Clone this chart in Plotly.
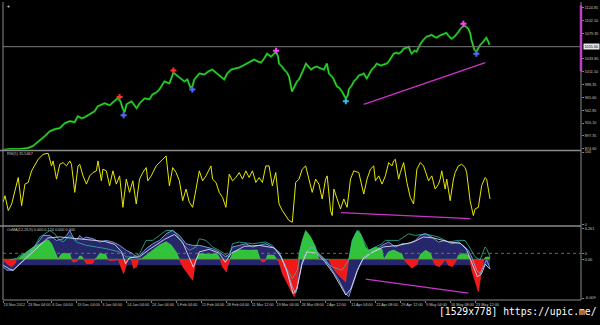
import plotly.graph_objects as go
import numpy as np

# ---------------- DATA ----------------
time_pos = [3, 27.5, 52, 77, 102, 127, 152, 177, 202, 227, 252, 277, 302, 327, 352, 377, 402, 427, 452, 477]
time_labels = ["13 Nov 2012", "23 Nov 04:00", "6 Dec 04:00", "19 Dec 04:00", "3 Jan 04:00", "14 Jan 04:00",
               "24 Jan 04:00", "5 Feb 04:00", "15 Feb 04:00", "28 Feb 04:00", "11 Mar 12:00", "19 Mar 04:00",
               "26 Mar 08:00", "2 Apr 12:00", "11 Apr 04:00", "22 Apr 08:00", "29 Apr 12:00", "9 May 04:00",
               "16 May 08:00", "23 May 12:00"]

price_x = [3,10,20,28,33,38,42,45,50,55,60,65,70,75,78,82,85,90,95,98,102,105,110,115,118,121,123,125,127,132,
           137,140,145,150,153,157,160,165,170,174,177,180,185,188,191,193,195,200,205,209,213,218,222,225,228,
           232,236,240,244,248,252,255,259,262,265,268,272,275,277,279,280,283,285,288,290,292,293,295,298,300,
           303,305,307,310,312,315,318,322,325,328,330,333,335,338,340,343,345,347,349,350,353,355,358,360,363,
           365,368,370,373,376,378,382,385,388,390,393,395,398,400,403,405,408,410,412,413,416,418,420,422,425,
           428,431,433,436,438,441,443,446,448,450,453,456,458,460,462,464,466,468,470,472,473,475,476,478,480,
           482,484,485,487,488,490,491]
price_close = [872.5,874.0,874.0,875.7,879.2,886.3,893.4,896.9,905.7,909.2,911.0,919.8,923.3,921.6,932.1,928.6,
               930.4,935.7,941.0,949.8,953.3,955.1,951.6,958.6,963.9,958.6,946.3,939.2,953.3,958.6,946.3,955.1,
               963.9,962.1,970.9,974.5,979.8,993.9,990.4,1009.7,1004.5,1000.9,993.9,997.4,983.3,985.1,997.4,1008.0,
               1006.2,1011.5,1015.0,1008.0,1002.7,997.4,1008.0,1015.0,1016.8,1018.6,1022.1,1025.6,1029.1,1032.7,
               1029.1,1027.4,1034.4,1043.3,1037.9,1043.3,1046.8,1037.9,1025.6,1020.3,1015.0,1009.7,1002.7,985.1,
               976.2,983.3,993.9,997.4,1008.0,1016.8,1025.6,1020.3,1015.0,1018.6,1020.3,1016.8,1015.0,1025.6,
               1008.0,1002.7,997.4,985.1,983.3,976.2,970.9,963.9,969.2,979.8,986.8,993.9,999.2,1004.5,1006.2,
               1008.0,999.2,1006.2,1015.0,1020.3,1025.6,1022.1,1023.9,1025.6,1029.1,1037.9,1043.3,1045.0,1043.3,
               1046.8,1052.1,1053.8,1055.6,1046.8,1043.3,1048.6,1046.8,1053.8,1060.9,1067.9,1073.2,1075.0,1076.8,
               1073.2,1071.5,1075.0,1076.8,1078.5,1080.3,1075.0,1069.7,1073.2,1076.8,1082.0,1087.3,1090.9,1092.6,
               1090.9,1087.3,1078.5,1067.9,1057.4,1050.3,1046.8,1053.8,1059.1,1062.6,1064.4,1069.7,1071.5,1064.4,
               1059.1]
current_price = [1055.6]

price_ticks = [1124.85, 1102.10, 1079.35, 1033.85, 1011.10, 988.35, 965.60, 942.85, 920.10, 897.35, 874.60]
price_tick_text = ["1124.85", "1102.10", "1079.35", "1033.85", "1011.10", "988.35", "965.60", "942.85",
                   "920.10", "897.35", "874.60"]

red_sig_x = [120, 174]
red_sig_y = [966.5, 1013.3]
blue_sig_x = [124, 193, 478]
blue_sig_y = [934.0, 979.8, 1043.3]
magenta_sig_x = [277, 465]
magenta_sig_y = [1048.5, 1096.2]
cyan_sig_x = [347]
cyan_sig_y = [958.6]

price_trend_x = [365, 487]
price_trend_y = [953.3, 1027.4]

rsi_x = [3,5,8.3,11.7,18.3,21.7,25,28.3,31.7,35,38.3,43.3,48.3,51.7,53.3,56.7,60,63.3,66.7,70,71.7,75,78.3,80,
         83.3,86.7,90,93.3,96.7,98.3,101.7,103.3,106.7,110,113.3,116.7,120,123.3,126.7,130,133.3,136.7,140,143.3,
         146.7,148.3,151.7,156.7,163.3,166.7,170,173.3,176.7,180,183.3,186.7,190,193.3,196.7,200,203.3,206.7,
         211.7,213.3,216.7,220,223.3,226.7,230,233.3,236.7,240,243.3,246.7,250,253.3,256.7,260,263.3,266.7,270,
         273.3,276.7,280,283.3,286.7,290,293.3,296.7,300,303.3,306.7,310,313.3,316.7,320,323.3,326.7,328.3,331.7,
         333.3,335,338.3,341.7,345,348.3,351.7,355,360,365,368.3,371.7,375,376.7,380,383.3,386.7,390,393.3,395,
         396.7,400,401.7,405,408.3,411.7,415,418.3,421.7,425,426.7,430,433.3,436.7,440,441.7,443.3,446.7,448.3,
         451.7,455,456.7,460,463.3,466.7,468.3,471.7,475,476.7,480,483.3,486.7,488.3,491.7]
rsi_v = [30.5,39.7,19.2,28.3,64.8,26.0,55.7,58.0,74.0,83.1,90.0,96.8,98.2,80.8,87.7,62.6,83.1,85.4,80.8,87.7,83.1,
         44.3,80.8,83.1,67.1,55.7,67.1,71.7,74.0,87.7,60.3,76.3,74.0,53.4,74.0,55.7,67.1,23.7,62.6,44.3,60.3,28.3,
         62.6,71.7,78.5,60.3,67.1,80.8,90.0,94.5,53.4,78.5,71.7,60.3,32.9,48.9,30.5,23.7,48.9,74.0,60.3,67.1,80.8,
         62.6,58.0,44.3,37.4,23.7,69.4,60.3,64.8,71.7,62.6,74.0,64.8,74.0,58.0,64.8,58.0,80.8,80.8,53.4,71.7,28.3,
         19.2,12.3,5.5,3.2,58.0,62.6,76.3,80.8,62.6,44.3,62.6,55.7,35.2,62.6,67.1,19.2,12.3,48.9,35.2,21.5,35.2,
         23.7,62.6,74.0,71.7,42.0,62.6,76.3,80.8,60.3,67.1,55.7,67.1,85.4,80.8,87.7,90.0,62.6,71.7,85.4,58.0,37.4,
         28.3,76.3,85.4,80.8,74.0,60.3,67.1,48.9,55.7,62.6,74.0,48.9,62.6,32.9,62.6,71.7,80.8,83.1,78.5,71.7,32.9,
         12.3,21.5,23.7,53.4,64.8,62.6,35.2]
rsi_trend_x = [342, 472]
rsi_trend_y = [16.4, 8.2]

osma_x = [3,6.7,11.7,15,16.7,20,26.7,33.3,40,45,48.3,51.7,55,58.3,60,62,70,71.7,73.3,77,78.3,80,82,84,86.7,93,95,
          97,100,106,108,110,116,118.5,121,124,126.7,128,130,132,134,137,139,142,146.7,153.3,160,166.7,171.7,176.7,
          180,183.3,188.3,193.3,195.5,196.7,200,210,218,221,223.3,227,229,231,234,240,250,258,261,263,266,267,
          268.5,275,277.5,280,283.3,290,295,298.3,299.5,300,303.3,306.7,311.7,316.7,320,330,333.3,338.3,343.3,
          346.7,350,353.3,358.3,361.7,366.7,370,376.7,383.3,385,390,395,403.3,405,413.3,418.3,420,422,427,432,434,
          437,441,445,447,450,454,457,458.5,460,465,470,471.5,473.3,478.3,480,483.3,485.5,487,490,491.7]
osma_v = [0.0,-0.87,-1.53,-0.87,0.0,0.47,1.47,2.47,3.13,3.67,3.93,3.13,1.47,0.0,0.6,1.13,1.13,0.0,-0.53,-0.4,0.0,
          0.67,0.6,0.0,-0.87,-0.8,0.0,0.3,1.13,1.0,0.0,-0.27,-0.2,0.0,-1.5,-2.87,-1.2,0.0,0.2,0.0,-1.87,-1.5,0.0,
          0.1,0.8,1.87,2.87,3.53,2.87,1.47,0.0,-1.47,-2.8,-4.2,-1.5,0.0,1.13,1.0,1.13,0.0,-1.5,-2.53,-1.0,0.0,1.5,
          1.87,1.8,1.87,0.0,-0.53,-0.4,0.0,0.87,0.8,0.0,-0.5,-2.87,-5.53,-7.53,-5.53,0.0,1.13,3.8,5.8,4.47,2.47,
          0.0,0.0,-1.47,-2.8,-3.87,-4.53,0.0,3.8,5.8,5.13,2.47,1.8,2.47,2.0,0.0,1.5,1.87,1.0,0.0,-1.8,-1.0,0.0,1.0,
          1.8,1.2,0.0,-1.2,-1.47,-0.5,0.0,-1.2,-1.47,-0.5,0.0,0.8,1.13,0.8,0.0,-2.13,-5.47,-6.53,-2.2,0.0,0.4,0.47,
          0.3]

macd_x = [3,6.7,13.3,20,26.7,33.3,40,43.3,50,56.7,63.3,66.7,70,73.3,76.7,80,83.3,86.7,93.3,100,106.7,113.3,120,
          126.7,133.3,136.7,140,146.7,153.3,160,166.7,170,173.3,180,186.7,193.3,200,206.7,213.3,220,226.7,230,
          233.3,240,246.7,253.3,260,266.7,273.3,280,286.7,293.3,296.7,300,303.3,306.7,313.3,320,326.7,333.3,340,
          346.7,350,353.3,356.7,360,365,370,376.7,383.3,390,396.7,403.3,410,416.7,421.7,426.7,433.3,440,446.7,
          453.3,460,466.7,470,473.3,478.3,481.7,485,488.3,491.7]
macd_v = [-1.53,-2.2,-2.2,-0.87,0.47,2.13,3.8,4.8,4.8,3.8,4.13,4.8,5.8,4.47,3.8,4.8,4.13,4.47,4.13,3.47,3.8,3.47,
          2.8,1.8,1.13,0.47,0.8,2.13,3.13,3.8,5.13,5.47,5.8,4.8,3.13,2.8,2.8,2.47,2.13,1.47,0.47,1.13,2.47,2.8,3.13,
          2.47,2.8,3.13,2.47,1.47,-1.53,-5.53,-6.87,-4.0,-0.5,1.5,2.47,1.13,-0.13,-2.2,-4.2,-6.87,-7.53,-5.53,-3.53,
          -1.53,0.47,1.13,1.8,2.8,3.47,2.47,3.13,3.13,3.8,4.8,5.13,4.47,3.47,3.8,3.13,3.47,2.47,1.8,0.47,-2.2,-2.87,
          -1.53,-0.13,-1.87]

signal_x = [3,10,13.3,25,35,48,60,75,90,105,115,122,126,130,140,150,165,175,183,190,194,200,210,220,226,232,245,
            260,275,282,288,294,298,303,308,318,326,335,342,347,352,358,364,372,385,400,415,425,435,450,462,468,
            474,479,483,487,491.7]
signal_v = [-1.2,-2.0,-2.2,0.0,2.0,4.3,4.5,4.2,4.0,3.6,3.0,1.5,-0.9,0.3,0.5,2.0,4.0,5.0,3.5,0.0,-1.6,1.5,2.0,1.2,
            -0.6,1.2,2.6,2.8,2.3,0.5,-2.5,-6.9,-6.0,-1.0,1.5,1.2,-0.5,-3.0,-5.5,-7.2,-6.0,-2.5,0.0,1.2,2.5,2.8,3.5,
            4.5,4.3,3.5,3.2,2.0,-1.0,-3.5,-3.0,-1.0,-2.0]

fast_x = [10,16.7,20,26.7,33.3,40,45,50,55,58.3,63.3,66.7,70,76.7,86.7,96.7,106.7,120,126.7,133.3,140,143.3,146.7,
          153.3,160,166.7,173.3,176.7,183.3,190,196.7,200,206.7,213.3,220,230,233.3,240,253.3,266.7,273.3,280,
          286.7,293.3,298.3,300,303.3,306.7,313.3,320,326.7,333.3,343.3,350,353.3,356.7,360,363.3,370,376.7,383.3,
          386.7,400,410,416.7,426.7,440,450,460,466.7,470,476.7,481.7,486.7,488.3,491.7]
fast_v = [-0.13,0.2,0.8,1.13,2.13,4.47,5.13,5.8,5.13,4.13,3.47,4.13,4.8,3.47,2.8,2.47,2.13,1.47,0.47,0.47,1.13,2.47,
          3.8,3.8,4.8,5.8,5.8,5.13,3.13,1.8,2.47,4.13,3.8,2.47,1.8,0.47,3.13,3.47,3.13,3.47,2.8,1.13,-1.53,-3.87,
          -2.2,-0.13,3.13,3.8,2.8,1.13,-0.47,-1.53,-2.2,-0.13,3.13,5.13,5.8,4.47,1.8,2.47,3.13,3.8,3.8,5.13,4.8,
          5.13,4.47,3.47,3.8,3.8,2.8,0.47,-0.13,2.47,2.13,0.47]

band_x = [3, 100, 200, 300, 400, 491.7]
band_v = [-1.2, -1.2, -1.2, -1.2, -1.2, -1.2]
osma_level = [1.2]
osma_trend_x = [367, 470]
osma_trend_y = [-4.0, -6.8]

for a, b in [(price_x, price_close), (rsi_x, rsi_v), (osma_x, osma_v), (macd_x, macd_v),
             (signal_x, signal_v), (fast_x, fast_v)]:
    assert len(a) == len(b), (len(a), len(b))

# ---------------- FIGURE ----------------
TXT = "#c4c4c4"
FS = 3.8
FONT = "Liberation Sans"

fig = go.Figure()

# price panel
fig.add_trace(go.Scatter(x=price_x, y=price_close, mode="lines", yaxis="y",
                         line=dict(color="#0d8f0d", width=2.2)))
fig.add_trace(go.Scatter(x=price_x, y=price_close, mode="lines", yaxis="y",
                         line=dict(color="#3fe83f", width=0.9)))
fig.add_trace(go.Scatter(x=price_trend_x, y=price_trend_y, mode="lines", yaxis="y",
                         line=dict(color="#cc33cc", width=1.3)))
for sx, sy, col in [(red_sig_x, red_sig_y, "#ff3030"), (blue_sig_x, blue_sig_y, "#4d6dff"),
                    (magenta_sig_x, magenta_sig_y, "#ff40ff"), (cyan_sig_x, cyan_sig_y, "#30c0e0")]:
    fig.add_trace(go.Scatter(x=sx, y=sy, mode="markers", yaxis="y",
                             marker=dict(symbol="cross", size=5, color=col, line=dict(width=0))))

# RSI panel
fig.add_trace(go.Scatter(x=rsi_x, y=rsi_v, mode="lines", yaxis="y2",
                         line=dict(color="#e8e800", width=1.0)))
fig.add_trace(go.Scatter(x=rsi_trend_x, y=rsi_trend_y, mode="lines", yaxis="y2",
                         line=dict(color="#cc33cc", width=1.3)))

# OsMA panel
ov = np.array(osma_v)
fig.add_trace(go.Scatter(x=macd_x, y=macd_v, mode="lines", yaxis="y3", fill="tozeroy",
                         fillcolor="#26266a", line=dict(color="rgba(0,0,0,0)", width=0)))
fig.add_trace(go.Scatter(x=band_x, y=band_v, mode="lines", yaxis="y3", fill="tozeroy",
                         fillcolor="#26266a", line=dict(color="rgba(0,0,0,0)", width=0)))
fig.add_trace(go.Scatter(x=osma_x, y=np.clip(ov, 0, None), mode="lines", yaxis="y3", fill="tozeroy",
                         fillcolor="#2fc43a", line=dict(color="#4be052", width=0.6)))
fig.add_trace(go.Scatter(x=osma_x, y=np.clip(ov, None, 0), mode="lines", yaxis="y3", fill="tozeroy",
                         fillcolor="#f01818", line=dict(color="#ff3030", width=0.6)))
fig.add_trace(go.Scatter(x=fast_x, y=fast_v, mode="lines", yaxis="y3",
                         line=dict(color="#2fb89a", width=0.8)))
fig.add_trace(go.Scatter(x=macd_x, y=macd_v, mode="lines", yaxis="y3",
                         line=dict(color="#7fa8e0", width=0.9)))
fig.add_trace(go.Scatter(x=signal_x, y=signal_v, mode="lines", yaxis="y3",
                         line=dict(color="#d8d8f4", width=0.9)))
fig.add_trace(go.Scatter(x=osma_trend_x, y=osma_trend_y, mode="lines", yaxis="y3",
                         line=dict(color="#cc33cc", width=1.3)))

PT, PB = 2, 300
H = PB - PT
def py(px):
    return (PB - px) / H

tickfont = dict(family=FONT, size=FS, color=TXT)
yax_common = dict(side="right", anchor="x", showgrid=False, zeroline=False, ticks="outside",
                  ticklen=2, tickcolor="#808080", tickfont=tickfont, showline=False, fixedrange=True)

fig.update_layout(
    width=600, height=325,
    margin=dict(l=3, r=17, t=PT, b=325 - PB),
    paper_bgcolor="#000000", plot_bgcolor="#000000",
    showlegend=False, hovermode=False,
    xaxis=dict(range=[3, 583], domain=[0, 1], anchor="y3", showgrid=False, zeroline=False,
               tickvals=time_pos, ticktext=time_labels, ticks="outside", ticklen=2,
               tickcolor="#808080", tickangle=0, ticklabelposition="outside right",
               tickfont=tickfont, showline=False),
    yaxis=dict(domain=[py(148.5), 1], range=[873.07, 1131.4], tickvals=price_ticks,
               ticktext=price_tick_text, **yax_common),
    yaxis2=dict(domain=[py(224), py(151)], range=[0, 100], tickvals=[100, 0],
                ticktext=["100", "0"], **yax_common),
    yaxis3=dict(domain=[0, py(227)], range=[-8.2, 6.4], tickvals=[6.2, 1.2, 0, -7.8],
                ticktext=["6.261", "0", "0.00", "-6.009"], **yax_common),
)

grey = "#8a8a8a"
shapes = [
    dict(type="line", xref="paper", yref="paper", x0=0, x1=0, y0=0, y1=py(0), line=dict(color=grey, width=1)),
    dict(type="line", xref="paper", yref="paper", x0=1, x1=1, y0=0, y1=py(0), line=dict(color=grey, width=1)),
    dict(type="line", xref="paper", yref="paper", x0=-0.006, x1=1, y0=py(149.5), y1=py(149.5),
         line=dict(color=grey, width=1.5)),
    dict(type="line", xref="paper", yref="paper", x0=-0.006, x1=1, y0=py(225.5), y1=py(225.5),
         line=dict(color=grey, width=1.5)),
    dict(type="line", xref="paper", yref="paper", x0=0, x1=1, y0=0, y1=0, line=dict(color=grey, width=1)),
    dict(type="line", xref="paper", yref="y", x0=0, x1=1, y0=current_price[0], y1=current_price[0],
         line=dict(color="#7a7a7a", width=1)),
    dict(type="line", xref="paper", yref="y3", x0=0, x1=1, y0=osma_level[0], y1=osma_level[0],
         line=dict(color="#b87a20", width=0.8, dash="dot")),
    dict(type="line", xref="paper", yref="y domain", x0=1, x1=1, y0=0.536, y1=0.99,
         line=dict(color="#c040c8", width=2.5)),
]
fig.update_layout(shapes=shapes)

annotations = [
    dict(xref="paper", yref="y", x=1, y=current_price[0], xanchor="left", yanchor="middle", xshift=2,
         text="%.2f" % current_price[0], showarrow=False, bgcolor="#e8e8e8", borderpad=0.5,
         font=dict(family=FONT, size=FS, color="#000000")),
    dict(xref="paper", yref="paper", x=2 / 580, y=py(153.5), xanchor="left", yanchor="middle",
         text="RSI(5) 35.5467", showarrow=False, font=dict(family=FONT, size=FS, color=TXT)),
    dict(xref="paper", yref="paper", x=2 / 580, y=py(229.5), xanchor="left", yanchor="middle",
         text="OsMA(12,26,9) 0.000 0.124 0.000 0.000", showarrow=False,
         font=dict(family=FONT, size=FS, color=TXT)),
    dict(xref="paper", yref="paper", x=2 / 580, y=py(4), xanchor="left", yanchor="middle",
         text="+", showarrow=False, font=dict(family=FONT, size=5, color="#ffffff")),
    dict(xref="paper", yref="paper", x=(439 - 3) / 580, y=py(312), xanchor="left", yanchor="middle",
         text="[1529x778] https://upic.me/", showarrow=False,
         font=dict(family="DejaVu Sans Mono", size=9.7, color="#ffffff")),
]
fig.update_layout(annotations=annotations)

fig.write_html("out.html")
